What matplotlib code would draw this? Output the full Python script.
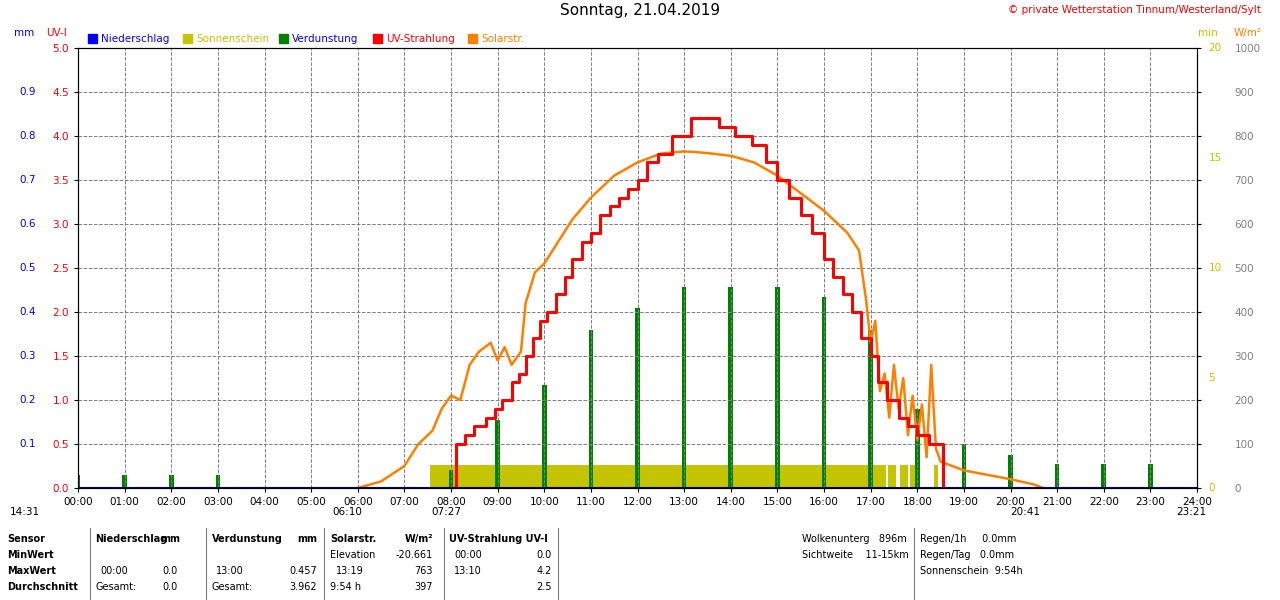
import matplotlib.pyplot as plt
import numpy as np

# data
hours = np.arange(24)
verdunstung = [0.03, 0.03, 0.03, 0.03, 0, 0, 0, 0, 0.04, 0.154, 0.234, 0.36, 0.41, 0.457,
               0.457, 0.457, 0.435, 0.36, 0.18, 0.10, 0.075, 0.055, 0.055, 0.055]

uv_t = [0, 8.1, 8.3, 8.5, 8.75, 8.95, 9.1, 9.3, 9.45, 9.6, 9.75, 9.9, 10.05, 10.25, 10.45,
        10.6, 10.8, 11.0, 11.2, 11.4, 11.6, 11.8, 12.0, 12.2, 12.45, 12.75, 13.15, 13.75, 14.1,
        14.45, 14.75, 15.0, 15.25, 15.5, 15.75, 16.0, 16.2, 16.4, 16.6, 16.8, 17.0, 17.15, 17.35,
        17.6, 17.8, 18.0, 18.25, 18.55, 24]
uv_v = [0, 0.5, 0.6, 0.7, 0.8, 0.9, 1.0, 1.2, 1.3, 1.5, 1.7, 1.9, 2.0, 2.2, 2.4,
        2.6, 2.8, 2.9, 3.1, 3.2, 3.3, 3.4, 3.5, 3.7, 3.8, 4.0, 4.2, 4.1, 4.0,
        3.9, 3.7, 3.5, 3.3, 3.1, 2.9, 2.6, 2.4, 2.2, 2.0, 1.7, 1.5, 1.2, 1.0,
        0.8, 0.7, 0.6, 0.5, 0.0, 0.0]

solar_t = [6.0, 6.5, 7.0, 7.3, 7.6, 7.8, 8.0, 8.2, 8.4, 8.6, 8.85, 9.0, 9.15, 9.3, 9.5,
           9.6, 9.8, 10.0, 10.3, 10.6, 11.0, 11.5, 12.0, 12.5, 13.0, 13.3, 13.6, 14.0,
           14.5, 15.0, 15.5, 16.0, 16.5, 16.75, 16.9, 17.0, 17.1, 17.2, 17.3, 17.4, 17.5,
           17.6, 17.7, 17.8, 17.9, 18.0, 18.1, 18.2, 18.3, 18.4, 18.5, 19.0, 19.5, 20.0,
           20.5, 20.7]
solar_v = [0, 15, 50, 100, 130, 180, 210, 200, 280, 310, 330, 290, 320, 280, 310,
           420, 490, 510, 560, 610, 660, 710, 740, 760, 765, 763, 760, 755,
           740, 710, 670, 630, 580, 540, 430, 330, 380, 220, 260, 160, 280, 180,
           250, 120, 210, 110, 190, 70, 280, 90, 60, 40, 30, 20, 8, 0]

sun_start = [7.55, 17.38, 17.62, 17.85, 18.35]
sun_end = [17.32, 17.55, 17.8, 17.95, 18.45]
sun_min = 1.05

fig = plt.figure(figsize=(12.8, 6), dpi=100)
ax = fig.add_axes([78/1280, 112/600, 1119/1280, 440/600])
ax.set_xlim(0, 24)
ax.set_ylim(0, 5)
ax.set_xticks(range(25))
ax.set_xticklabels([f'{h:02d}:00' for h in range(25)], fontsize=7.5)
ax.set_yticks(np.arange(0, 5.01, 0.5))
ax.set_yticklabels([f'{v:.1f}' for v in np.arange(0, 5.01, 0.5)], color='red', fontsize=7.5)
ax.tick_params(length=3)
ax.grid(True, color='#808080', linestyle='--', linewidth=0.7)
for t in np.arange(0.1, 0.91, 0.1):
    ax.text(-0.9, t * 5, f'{t:.1f}', color='blue', fontsize=7.5, ha='right', va='center')

# sunshine (right min scale -> 20 min = 5 units)
for s, e in zip(sun_start, sun_end):
    ax.fill_between([s, e], 0, sun_min / 20 * 5, color='#c4c400', lw=0)
# verdunstung bars (mm axis: 1 mm = 5 units)
ax.bar(hours, np.array(verdunstung) * 5, width=0.1, color='green')
ax.plot(np.array(solar_t), np.array(solar_v) / 200, color='#ff8000', lw=1.8)
ax.step(uv_t, uv_v, where='post', color='red', lw=2.2)
ax.axhline(0, color='navy', lw=1.5)

ax2 = ax.twinx()
ax2.set_ylim(0, 5)
ax2.set_yticks(np.arange(0, 5.01, 0.5))
ax2.set_yticklabels([f'{int(v*200)}' for v in np.arange(0, 5.01, 0.5)], color='grey', fontsize=7.5)
ax2.tick_params(length=3, pad=24)
for m in [0, 5, 10, 15, 20]:
    ax2.text(24.25, m / 4, str(m), color='#c4c400', fontsize=7.5, va='center')

fig.text(0.5, 0.975, 'Sonntag, 21.04.2019', ha='center', fontsize=11)
fig.text(0.985, 0.978, '© private Wetterstation Tinnum/Westerland/Sylt', ha='right', color='red', fontsize=7.5)
fig.text(14/1280, 0.94, 'mm', color='blue', fontsize=7.5)
fig.text(46/1280, 0.94, 'UV-I', color='red', fontsize=7.5)
fig.text(1198/1280, 0.94, 'min', color='#c4c400', fontsize=7.5)
fig.text(1234/1280, 0.94, 'W/m²', color='#ff8000', fontsize=7.5)
legend = [('Niederschlag', 'blue', 'blue'), ('Sonnenschein', '#c4c400', '#c4c400'),
          ('Verdunstung', 'green', 'blue'), ('UV-Strahlung', 'red', 'red'), ('Solarstr.', '#ff8000', '#ff8000')]
xs = [88, 183, 279, 373, 468]
for (lab, c, tc), x in zip(legend, xs):
    fig.patches.append(plt.Rectangle((x/1280, 0.929), 9/1280, 9/600, color=c, transform=fig.transFigure))
    fig.text((x + 13)/1280, 0.93, lab, color=tc, fontsize=7.5)

fig.text(10/1280, 85/600, '14:31', fontsize=7.5)
fig.text(332/1280, 85/600, '06:10', fontsize=7.5)
fig.text(431/1280, 85/600, '07:27', fontsize=7.5)
fig.text(1010/1280, 85/600, '20:41', fontsize=7.5)
fig.text(1176/1280, 85/600, '23:21', fontsize=7.5)

# table
rows_y = [42, 26, 10, -6]
def t(x, y, s, bold=False, ha='left'):
    fig.text(x/1280, (y + 16)/600, s, fontsize=7, ha=ha, fontweight='bold' if bold else 'normal')
for s, y in zip(['Sensor', 'MinWert', 'MaxWert', 'Durchschnitt'], rows_y):
    t(7, y, s, bold=True)
t(95, 42, 'Niederschlag', True); t(180, 42, 'mm', True, 'right')
t(212, 42, 'Verdunstung', True); t(317, 42, 'mm', True, 'right')
t(330, 42, 'Solarstr.', True); t(433, 42, 'W/m²', True, 'right')
t(449, 42, 'UV-Strahlung UV-I', True)
t(100, 10, '00:00'); t(178, 10, '0.0', ha='right')
t(95, -6, 'Gesamt:'); t(178, -6, '0.0', ha='right')
t(216, 10, '13:00'); t(317, 10, '0.457', ha='right')
t(212, -6, 'Gesamt:'); t(317, -6, '3.962', ha='right')
t(330, 26, 'Elevation'); t(433, 26, '-20.661', ha='right')
t(336, 10, '13:19'); t(433, 10, '763', ha='right')
t(330, -6, '9:54 h'); t(433, -6, '397', ha='right')
t(454, 26, '00:00'); t(552, 26, '0.0', ha='right')
t(454, 10, '13:10'); t(552, 10, '4.2', ha='right')
t(552, -6, '2.5', ha='right')
t(802, 42, 'Wolkenunterg   896m'); t(802, 26, 'Sichtweite    11-15km')
t(920, 42, 'Regen/1h     0.0mm'); t(920, 26, 'Regen/Tag   0.0mm'); t(920, 10, 'Sonnenschein  9:54h')
for x in [90, 206, 324, 444, 558, 914]:
    fig.add_artist(plt.Line2D([x/1280, x/1280], [0, 72/600], color='grey', lw=0.8))

fig.savefig('out.png', dpi=100)
